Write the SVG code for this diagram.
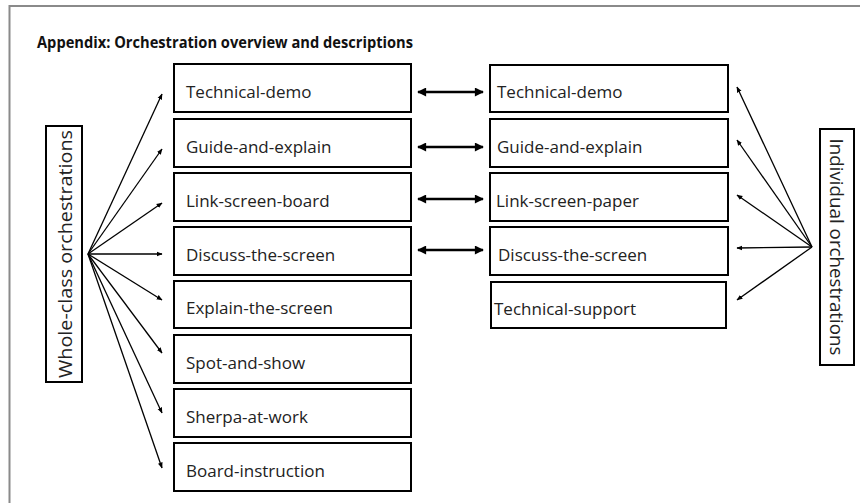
<svg xmlns="http://www.w3.org/2000/svg" width="860" height="503" viewBox="0 0 860 503">
<defs>
<style>
.box{fill:#fff;stroke:#000;stroke-width:2}
.t{font-family:"Open Sans","Liberation Sans",sans-serif;font-size:17px;fill:#222}
.lab{font-family:"Open Sans","Liberation Sans",sans-serif;font-size:19px;fill:#222}
.title{font-family:"Open Sans","Liberation Sans",sans-serif;font-size:15.5px;font-weight:bold;fill:#111}
.fan{stroke:#000;stroke-width:1.3;fill:none;marker-end:url(#ah)}
.dbl{stroke:#000;stroke-width:2.5;fill:none;marker-start:url(#dh);marker-end:url(#dh)}
</style>
<marker id="ah" viewBox="0 0 10 10" refX="9" refY="5" markerWidth="6" markerHeight="6" orient="auto-start-reverse" markerUnits="userSpaceOnUse"><path d="M0,1 L10,5 L0,9 Z" fill="#000"/></marker>
<marker id="dh" viewBox="0 0 10 10" refX="9" refY="5" markerWidth="10" markerHeight="9" orient="auto-start-reverse" markerUnits="userSpaceOnUse"><path d="M0,0 L10,5 L0,10 Z" fill="#000"/></marker>
</defs>
<rect width="860" height="503" fill="#fff"/>
<path d="M9.5,503 V6 H860" fill="none" stroke="#8a8a8a" stroke-width="2"/>
<text class="title" x="37" y="48" textLength="376" lengthAdjust="spacingAndGlyphs">Appendix: Orchestration overview and descriptions</text>

<g id="whole-class">
<rect class="box" x="46" y="126" width="36" height="256"/>
<text class="lab" transform="translate(72,254) rotate(-90)" text-anchor="middle" textLength="248" lengthAdjust="spacingAndGlyphs">Whole-class orchestrations</text>
</g>
<g id="individual">
<rect class="box" x="820" y="129" width="34" height="236"/>
<text class="lab" transform="translate(830,247) rotate(90)" text-anchor="middle" textLength="217" lengthAdjust="spacingAndGlyphs">Individual orchestrations</text>
</g>

<g id="l-technical-demo"><rect class="box" x="174" y="64" width="237" height="48"/><text class="t" x="186" y="98">Technical-demo</text></g>
<g id="l-guide-and-explain"><rect class="box" x="174" y="119" width="237" height="48"/><text class="t" x="186" y="153">Guide-and-explain</text></g>
<g id="l-link-screen-board"><rect class="box" x="174" y="173" width="237" height="48"/><text class="t" x="186" y="207">Link-screen-board</text></g>
<g id="l-discuss-the-screen"><rect class="box" x="174" y="227" width="237" height="48"/><text class="t" x="186" y="261">Discuss-the-screen</text></g>
<g id="l-explain-the-screen"><rect class="box" x="174" y="281" width="237" height="47"/><text class="t" x="186" y="314">Explain-the-screen</text></g>
<g id="l-spot-and-show"><rect class="box" x="174" y="335" width="237" height="48"/><text class="t" x="186" y="369">Spot-and-show</text></g>
<g id="l-sherpa-at-work"><rect class="box" x="174" y="389" width="237" height="48"/><text class="t" x="186" y="423">Sherpa-at-work</text></g>
<g id="l-board-instruction"><rect class="box" x="174" y="443" width="237" height="48"/><text class="t" x="186" y="477">Board-instruction</text></g>

<g id="r-technical-demo"><rect class="box" x="490" y="65" width="238" height="47"/><text class="t" x="497" y="98">Technical-demo</text></g>
<g id="r-guide-and-explain"><rect class="box" x="490" y="119" width="238" height="48"/><text class="t" x="497" y="153">Guide-and-explain</text></g>
<g id="r-link-screen-paper"><rect class="box" x="490" y="173" width="238" height="48"/><text class="t" x="496" y="207">Link-screen-paper</text></g>
<g id="r-discuss-the-screen"><rect class="box" x="490" y="227" width="238" height="48"/><text class="t" x="498" y="261">Discuss-the-screen</text></g>
<g id="r-technical-support"><rect class="box" x="491" y="282" width="235" height="46"/><text class="t" x="494" y="315">Technical-support</text></g>

<g id="connectors">
<path class="fan" d="M88,254 L162,94"/>
<path class="fan" d="M88,254 L162,149"/>
<path class="fan" d="M88,254 L162,203"/>
<path class="fan" d="M88,254 L162,254"/>
<path class="fan" d="M88,254 L162,300"/>
<path class="fan" d="M88,254 L162,353"/>
<path class="fan" d="M88,254 L162,413"/>
<path class="fan" d="M88,254 L162,468"/>
<path class="dbl" d="M418,92 L483,92"/>
<path class="dbl" d="M418,147 L483,147"/>
<path class="dbl" d="M418,199 L483,199"/>
<path class="dbl" d="M418,250 L483,250"/>
<path class="fan" d="M812,247 L737,87"/>
<path class="fan" d="M812,247 L737,140"/>
<path class="fan" d="M812,247 L737,195"/>
<path class="fan" d="M812,247 L737,248"/>
<path class="fan" d="M812,247 L737,300"/>
</g>
</svg>
